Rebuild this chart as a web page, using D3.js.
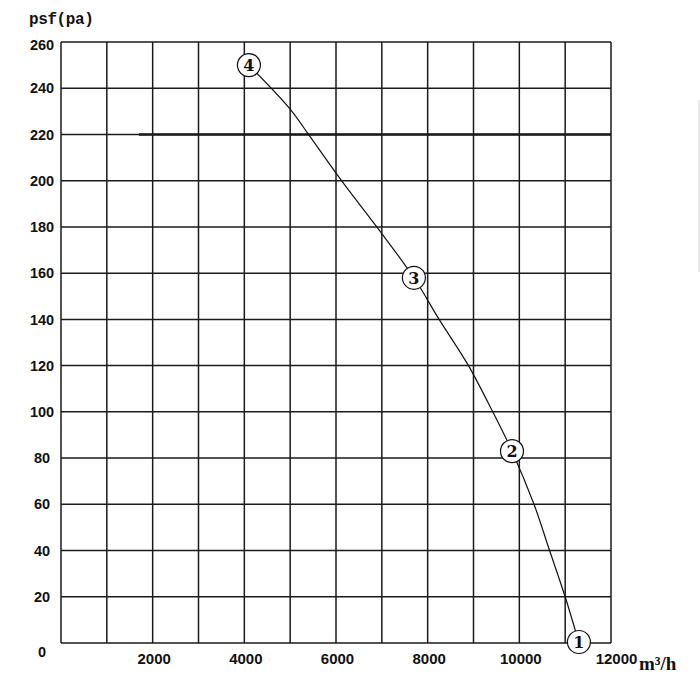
<!DOCTYPE html>
<html>
<head>
<meta charset="utf-8">
<script src="https://cdn.jsdelivr.net/npm/d3@7"></script>
<style>
  html, body { margin: 0; padding: 0; background: #fff; }
  svg { display: block; }
</style>
</head>
<body>
<div id="chart"></div>
<script>
// Fan curve: airflow (m³/h) vs static pressure psf (pa)
const curveFlow     = [4100, 5000, 5400, 6120, 6890, 7700, 8250, 8890, 9420, 9840, 10320, 10660, 11000, 11300];
const curvePressure = [250,  231,  220,  200,  180,  158,  140,  120,  100,  83,   60,    40,    20,    0];

// Numbered operating points on the curve
const pointLabels   = ["1", "2", "3", "4"];
const pointFlow     = [11300, 9840, 7700, 4100];
const pointPressure = [0, 83, 158, 250];

const xTicks = [2000, 4000, 6000, 8000, 10000, 12000];
const yTicks = d3.range(0, 261, 20);
const xGrid = d3.range(0, 12001, 1000);

const W = 700, H = 687;
const margin = { top: 42, right: 90, bottom: 44, left: 61 };

const svg = d3.select("#chart").append("svg")
  .attr("width", W)
  .attr("height", H);

const x = d3.scaleLinear().domain([0, 12000]).range([margin.left, W - margin.right + 1]);
const y = d3.scaleLinear().domain([0, 260]).range([H - margin.bottom, margin.top]);

const gridColor = "#1a1a1a";

// grid
const grid = svg.append("g");
grid.selectAll(".vg")
  .data(xGrid)
  .join("line")
    .attr("x1", d => x(d)).attr("x2", d => x(d))
    .attr("y1", y(0)).attr("y2", y(260))
    .attr("stroke", gridColor)
    .attr("stroke-width", 1.5);
grid.selectAll(".hg")
  .data(yTicks)
  .join("line")
    .attr("x1", x(0)).attr("x2", x(12000))
    .attr("y1", d => y(d)).attr("y2", d => y(d))
    .attr("stroke", gridColor)
    .attr("stroke-width", 1.5);

// the heavier stretch of the 220 line seen in the scan
grid.append("line")
  .attr("x1", x(1700)).attr("x2", x(12000))
  .attr("y1", y(220)).attr("y2", y(220))
  .attr("stroke", gridColor)
  .attr("stroke-width", 2.4);

// y axis labels (centered under each other)
svg.append("g")
  .attr("transform", "translate(42,0)")
  .call(d3.axisLeft(y).tickValues(yTicks).tickSize(0).tickPadding(0))
  .call(ax => ax.select(".domain").remove())
  .call(ax => ax.selectAll("text")
    .attr("text-anchor", "middle")
    .attr("dy", d => d === 0 ? "0.95em" : (d === 260 ? "0.5em" : "0.32em"))
    .attr("font-family", "'Liberation Sans', Arial, sans-serif")
    .attr("font-weight", "bold")
    .attr("font-size", 14.5)
    .attr("fill", "#111"));

// x axis labels
svg.append("g")
  .attr("transform", `translate(0,${y(0)})`)
  .call(d3.axisBottom(x).tickValues(xTicks).tickSize(0).tickPadding(0).tickFormat(d3.format("d")))
  .call(ax => ax.select(".domain").remove())
  .call(ax => ax.selectAll("text")
    .attr("dy", "1.4em")
    .attr("dx", d => d === 12000 ? 5 : 1)
    .attr("font-family", "'Liberation Sans', Arial, sans-serif")
    .attr("font-weight", "bold")
    .attr("font-size", 15)
    .attr("fill", "#111"));

// axis titles
svg.append("text")
  .attr("x", 29)
  .attr("y", 24)
  .attr("font-family", "'Liberation Mono', 'Courier New', monospace")
  .attr("font-weight", "bold")
  .attr("font-size", 16)
  .attr("letter-spacing", -0.4)
  .attr("fill", "#111")
  .text("psf(pa)");

svg.append("text")
  .attr("x", 639)
  .attr("y", y(0) + 27)
  .attr("font-family", "'Liberation Serif', 'Times New Roman', serif")
  .attr("font-weight", "bold")
  .attr("font-size", 19)
  .attr("fill", "#111")
  .text("m³/h");

// faint scan edge at the right
svg.append("line")
  .attr("x1", 699).attr("x2", 699)
  .attr("y1", 100).attr("y2", 272)
  .attr("stroke", "#d8d8d8")
  .attr("stroke-width", 1);

// curve
const rows = curveFlow.map((f, i) => ({ flow: f, p: curvePressure[i] }));
const line = d3.line()
  .x(d => x(d.flow))
  .y(d => y(d.p))
  .curve(d3.curveCatmullRom.alpha(0.5));

svg.append("path")
  .datum(rows)
  .attr("fill", "none")
  .attr("stroke", "#111")
  .attr("stroke-width", 1.2)
  .attr("d", line);

// numbered circles
const pts = pointLabels.map((l, i) => ({ label: l, flow: pointFlow[i], p: pointPressure[i] }));
const marks = svg.append("g").selectAll("g")
  .data(pts)
  .join("g")
    .attr("transform", d => `translate(${x(d.flow)},${y(d.p) + (d.p === 0 ? -1 : 0)})`);

marks.append("circle")
  .attr("r", 11.5)
  .attr("fill", "#fff")
  .attr("stroke", "#111")
  .attr("stroke-width", 1.2);

marks.append("text")
  .attr("text-anchor", "middle")
  .attr("dy", "0.36em")
  .attr("font-family", "'DejaVu Serif', 'Liberation Serif', serif")
  .attr("font-weight", "bold")
  .attr("font-size", 16)
  .attr("fill", "#111")
  .text(d => d.label);
</script>
</body>
</html>
